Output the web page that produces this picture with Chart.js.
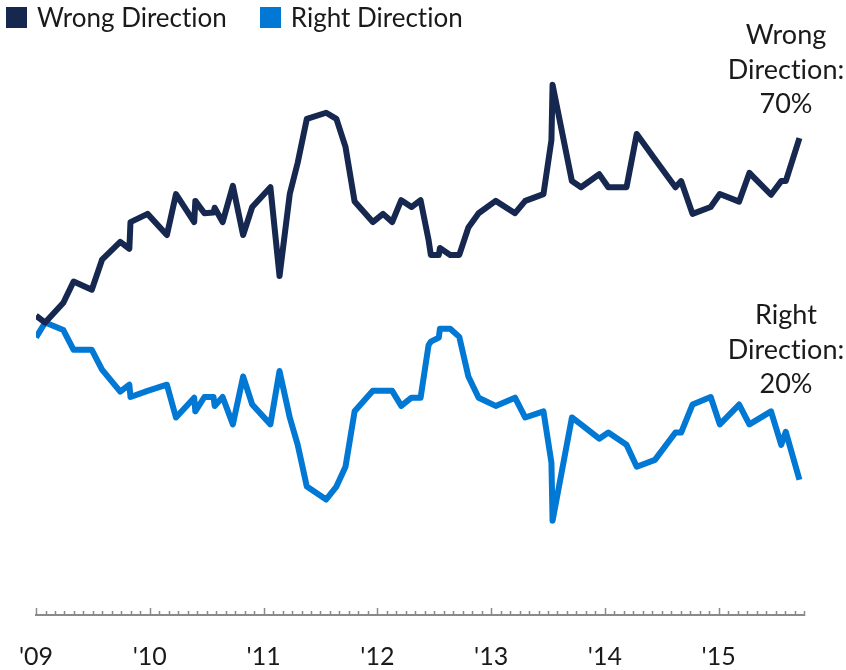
<!DOCTYPE html>
<html>
<head>
<meta charset="utf-8">
<script src="https://cdn.jsdelivr.net/npm/chart.js@4.4.1/dist/chart.umd.min.js"></script>
<style>
  html, body { margin: 0; padding: 0; background: #fff; }
  #wrap { position: relative; width: 846px; height: 670px; font-family: Lato, "Open Sans", sans-serif; color: #1a1a1a; font-variant-ligatures: none; }
  #chart { position: absolute; left: 0; top: 0; }
  .legend { position: absolute; top: 0; left: 6px; display: flex; align-items: center; font-size: 26px; line-height: 34px; }
  .legend span.box { display: inline-block; width: 21px; height: 21px; margin-right: 10px; }
  .legend span.item { display: flex; align-items: center; margin-right: 33px; }
  .endlabel { position: absolute; width: 160px; text-align: center; font-size: 27px; line-height: 34.5px; }
</style>
</head>
<body>
<div id="wrap">
  <canvas id="chart" width="846" height="670"></canvas>
  <div class="legend">
    <span class="item"><span class="box" style="background:#16284f"></span>Wrong Direction</span>
    <span class="item"><span class="box" style="background:#0078d4"></span>Right Direction</span>
  </div>
  <div class="endlabel" style="left:706px; top:17px;">Wrong<br>Direction:<br>70%</div>
  <div class="endlabel" style="left:706px; top:297px;">Right<br>Direction:<br>20%</div>
</div>
<script>
// poll dates as decimal years
const pollDates = [
  2009.00, 2009.08, 2009.24, 2009.33, 2009.49, 2009.58, 2009.74, 2009.82, 2009.83, 2009.98,
  2010.15, 2010.23, 2010.39, 2010.40, 2010.48, 2010.56, 2010.57, 2010.64, 2010.73, 2010.82,
  2010.90, 2011.06, 2011.14, 2011.23, 2011.30, 2011.38, 2011.55, 2011.64, 2011.72, 2011.80,
  2011.96, 2012.05, 2012.13, 2012.21, 2012.30, 2012.38, 2012.45, 2012.47, 2012.54, 2012.55,
  2012.64, 2012.72, 2012.80, 2012.89, 2013.04, 2013.21, 2013.30, 2013.46, 2013.53, 2013.54,
  2013.71, 2013.79, 2013.95, 2014.03, 2014.19, 2014.28, 2014.44, 2014.62, 2014.67, 2014.77,
  2014.93, 2015.01, 2015.18, 2015.27, 2015.46, 2015.55, 2015.59, 2015.71
];
const wrongDirection = [
  43.8, 42.8, 45.7, 48.8, 47.6, 52.0, 54.6, 53.6, 57.5, 58.7,
  55.6, 61.6, 57.5, 60.6, 58.8, 58.9, 59.6, 57.5, 62.8, 55.6,
  59.7, 62.6, 49.6, 61.6, 66.2, 72.6, 73.5, 72.6, 68.5, 60.5,
  57.5, 58.7, 57.5, 60.7, 59.7, 60.7, 54.9, 52.7, 52.7, 53.7,
  52.7, 52.7, 56.7, 58.8, 60.6, 58.8, 60.6, 61.6, 69.5, 77.6,
  63.5, 62.6, 64.5, 62.6, 62.6, 70.4, 66.7, 62.6, 63.5, 58.7,
  59.7, 61.6, 60.5, 64.7, 61.5, 63.5, 63.5, 69.8
];
const rightDirection = [
  40.6, 42.8, 41.7, 38.8, 38.8, 35.9, 32.7, 33.7, 31.9, 32.8,
  33.7, 28.9, 31.8, 29.8, 31.9, 31.9, 30.6, 31.9, 27.9, 34.9,
  30.8, 27.9, 35.7, 28.9, 24.9, 18.8, 16.9, 18.8, 21.7, 29.8,
  32.8, 32.8, 32.8, 30.6, 31.8, 31.8, 39.5, 40.0, 40.6, 41.9,
  41.9, 40.7, 34.9, 31.8, 30.6, 31.8, 28.9, 29.8, 22.3, 13.8,
  28.9, 27.9, 25.8, 26.7, 24.9, 21.7, 22.7, 26.7, 26.7, 30.8,
  31.9, 27.9, 30.8, 27.9, 29.8, 24.9, 26.8, 19.8
];
const yearLabels = ["'09", "'10", "'11", "'12", "'13", "'14", "'15"];
const firstYear = 2009;
const monthCount = 82; // Jan 2009 .. Oct 2015

// month ticks drawn upward from the axis, longer on each January
const monthTicks = {
  id: 'monthTicks',
  afterDraw(chart) {
    const x = chart.scales.x;
    const ctx = chart.ctx;
    const base = x.top + 1;
    ctx.save();
    ctx.strokeStyle = '#8a8a8a';
    ctx.lineWidth = 1.5;
    x.ticks.forEach((t, i) => {
      const px = Math.round(x.getPixelForValue(t.value)) + 0.5;
      const len = i % 12 === 0 ? 8 : 5;
      ctx.beginPath();
      ctx.moveTo(px, base);
      ctx.lineTo(px, base - len);
      ctx.stroke();
    });
    ctx.restore();
  }
};

const ctx = document.getElementById('chart').getContext('2d');
new Chart(ctx, {
  type: 'line',
  data: {
    labels: pollDates,
    datasets: [{
      label: 'Wrong Direction',
      data: pollDates.map((d, i) => ({ x: d, y: wrongDirection[i] })),
      borderColor: '#16284f',
      borderWidth: 6,
      pointRadius: 0,
      borderJoinStyle: 'round',
      tension: 0
    }, {
      label: 'Right Direction',
      data: pollDates.map((d, i) => ({ x: d, y: rightDirection[i] })),
      borderColor: '#0078d4',
      borderWidth: 6,
      pointRadius: 0,
      borderJoinStyle: 'round',
      tension: 0
    }]
  },
  options: {
    responsive: false,
    animation: false,
    layout: { padding: { left: 36, right: 42, top: 0, bottom: 0 } },
    plugins: {
      legend: { display: false },
      tooltip: { enabled: false }
    },
    scales: {
      x: {
        type: 'linear',
        min: firstYear,
        max: firstYear + (monthCount - 1) / 12,
        afterBuildTicks(scale) {
          const ticks = [];
          for (let m = 0; m < monthCount; m++) ticks.push({ value: firstYear + m / 12 });
          scale.ticks = ticks;
        },
        afterFit(scale) {
          scale.height = 55;
        },
        grid: { display: false },
        border: { display: true, color: '#8a8a8a', width: 2 },
        ticks: {
          autoSkip: false,
          maxRotation: 0,
          padding: 19,
          color: '#1a1a1a',
          font: { family: 'Lato', size: 25 },
          callback: function(value, index) {
            return index % 12 === 0 ? yearLabels[index / 12] : '';
          }
        }
      },
      y: {
        display: false,
        min: 0,
        max: 90
      }
    }
  },
  plugins: [monthTicks]
});
</script>
</body>
</html>
